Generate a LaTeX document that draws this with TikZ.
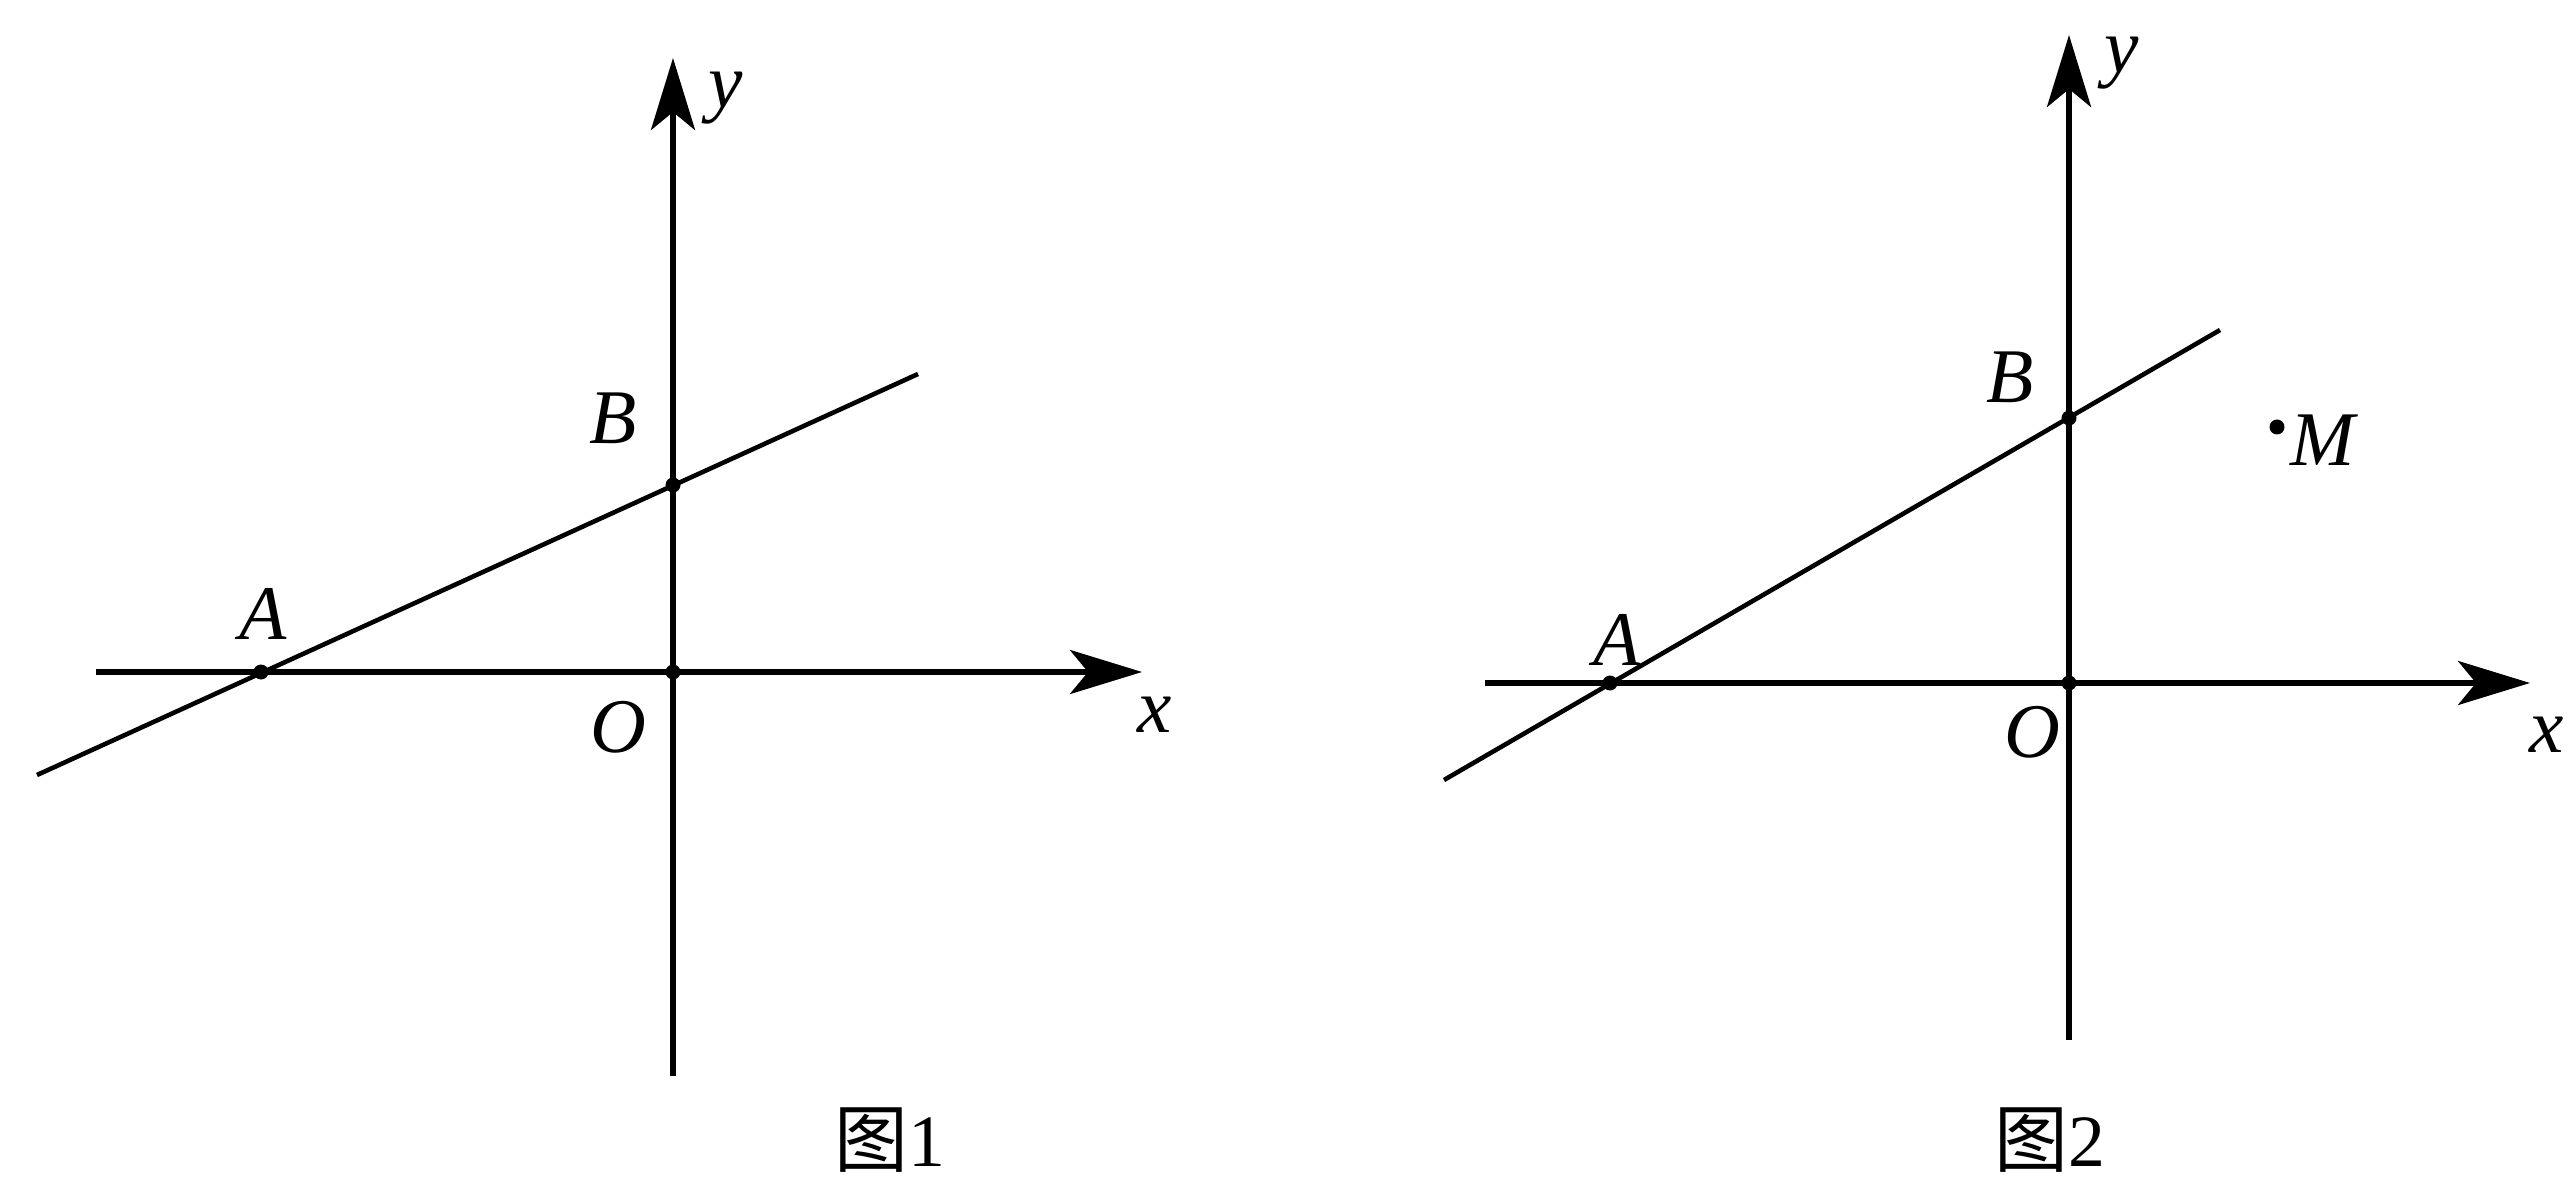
\documentclass[tikz,border=0pt]{standalone}
\usepackage{fontspec}
\setmainfont{Liberation Serif}
\newfontfamily\cjk{Noto Sans CJK SC}
\usetikzlibrary{arrows.meta,calc}
\tikzset{
  axis/.style={-{Stealth[length=7.2mm, width=4.4mm, inset=1.8mm]}, line width=1.5pt},
  ln/.style={line width=1.3pt},
  lbl/.style={font=\fontsize{22}{26}\selectfont\itshape, inner sep=0pt},
  dot/.style={circle, fill, inner sep=0pt, minimum size=1.5mm},
  fig/.style={font=\fontsize{21}{24}\selectfont, inner sep=0pt},
}
\begin{document}
\begin{tikzpicture}[x=0.1mm, y=-0.1mm]
\useasboundingbox (0,0) rectangle (2567,1180);
% figure 1
\coordinate (xs1) at (96,672);
\coordinate (xe1) at (1142,672);
\coordinate (ys1) at (673,1076);
\coordinate (ye1) at (673,58);
\coordinate (ls1) at (37,775);
\coordinate (le1) at (918,374);
\draw[axis] (xs1) -- (xe1);
\draw[axis] (ys1) -- (ye1);
\draw[ln] (ls1) -- (le1);
\node[dot] (O1) at (673,672) {};
\node[dot] (A1) at (261,672) {};
\node[dot] (B1) at (673,485) {};
\node[lbl] (ylab1) at (726,98) {y};
\node[lbl] (xlab1) at (1155,715) {x};
\node[lbl] (olab1) at (618,727) {O};
\node[lbl] (alab1) at (263,614) {A};
\node[lbl] (blab1) at (613,418) {B};
\node[fig] (cap1) at (890,1140) {{\cjk 图}1};
% figure 2
\coordinate (xs2) at (1485,683);
\coordinate (xe2) at (2530,683);
\coordinate (ys2) at (2069,1040);
\coordinate (ye2) at (2069,35);
\coordinate (ls2) at (1444,780);
\coordinate (le2) at (2220,330);
\draw[axis] (xs2) -- (xe2);
\draw[axis] (ys2) -- (ye2);
\draw[ln] (ls2) -- (le2);
\node[dot] (O2) at (2069,683) {};
\node[dot] (A2) at (1610,683) {};
\node[dot] (B2) at (2069,418) {};
\node[dot] (M2) at (2277,427) {};
\node[lbl] (ylab2) at (2122,63) {y};
\node[lbl] (xlab2) at (2547,735) {x};
\node[lbl] (olab2) at (2032,732) {O};
\node[lbl] (alab2) at (1617,640) {A};
\node[lbl] (blab2) at (2010,377) {B};
\node[lbl] (mlab2) at (2323,440) {M};
\node[fig] (cap2) at (2050,1140) {{\cjk 图}2};
\end{tikzpicture}
\end{document}
